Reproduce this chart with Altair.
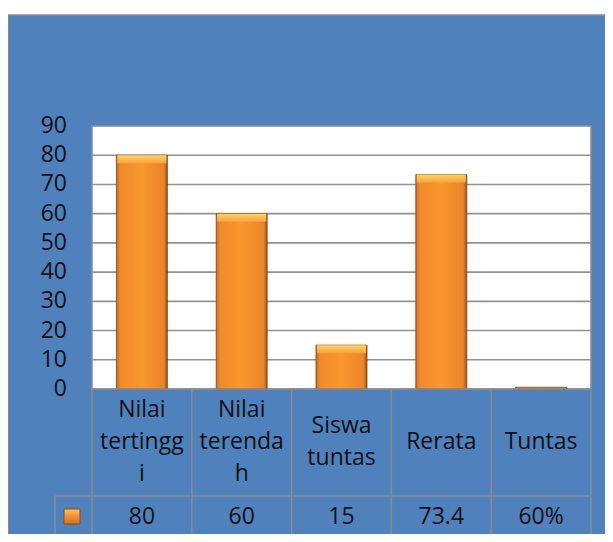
import altair as alt
import pandas as pd

# ---- data ----
categories = ["Nilai tertinggi", "Nilai terendah", "Siswa tuntas", "Rerata", "Tuntas"]
cat_labels = ["Nilai\ntertingg\ni", "Nilai\nterenda\nh", "Siswa\ntuntas", "Rerata", "Tuntas"]
values = [80, 60, 15, 73.4, 0.6]
value_labels = ["80", "60", "15", "73.4", "60%"]
y_ticks = [0, 10, 20, 30, 40, 50, 60, 70, 80, 90]

df = pd.DataFrame({"cat": categories, "label": cat_labels,
                   "value": values, "vlabel": value_labels})
df["n"] = [lbl.count("\n") + 1 for lbl in cat_labels]
tick_df = pd.DataFrame({"tick": y_ticks, "tlabel": [str(t) for t in y_ticks]})
grid_df = pd.DataFrame({"tick": y_ticks[1:-1]})
one = pd.DataFrame({"k": [0]})

W, H = 499, 263
FONT = "Open Sans"
BLUE = "#4F81BD"
LINE = "#8C8C8C"
TXT = "#111111"

xscale = alt.Scale(paddingInner=0, paddingOuter=0)
xenc = alt.X("cat:N", sort=categories, axis=None, scale=xscale)
yscale = alt.Scale(domain=[0, 90], nice=False)

# blue outer panel
panel = alt.Chart(one).mark_rect(fill=BLUE, stroke=LINE, strokeWidth=1.5).encode(
    x=alt.value(-84), x2=alt.value(W + 40), y=alt.value(-111), y2=alt.value(H + 160))

# white plot area
plot_bg = alt.Chart(one).mark_rect(fill="white", stroke=LINE, strokeWidth=1.5).encode(
    x=alt.value(0), x2=alt.value(W), y=alt.value(0), y2=alt.value(H))

grid = alt.Chart(grid_df).mark_rule(color="#939393", strokeWidth=1.6).encode(
    y=alt.Y("tick:Q", scale=yscale, axis=None),
    x=alt.value(0), x2=alt.value(W))

ylabels = alt.Chart(tick_df).mark_text(
    font=FONT, fontSize=23, color=TXT, align="right", baseline="middle").encode(
    y=alt.Y("tick:Q", scale=yscale, axis=None),
    x=alt.value(-25), text="tlabel:N")

bar_fill = alt.Gradient(
    gradient="linear", x1=0, x2=1, y1=0, y2=0,
    stops=[alt.GradientStop(offset=0, color="#C9681C"),
           alt.GradientStop(offset=0.07, color="#F08A2B"),
           alt.GradientStop(offset=0.5, color="#F8972F"),
           alt.GradientStop(offset=0.93, color="#EC8429"),
           alt.GradientStop(offset=1, color="#9A5018")])

bars = alt.Chart(df).mark_bar(size=51, fill=bar_fill, stroke="#7A461C",
                              strokeWidth=0.8).encode(
    x=xenc, y=alt.Y("value:Q", scale=yscale, axis=None))

bevel_fill = alt.Gradient(
    gradient="linear", x1=0, x2=0, y1=0, y2=1,
    stops=[alt.GradientStop(offset=0, color="#FFD366"),
           alt.GradientStop(offset=1, color="#F9A23A")])

bevel = alt.Chart(df).transform_filter("datum.value > 3").mark_tick(
    size=49, thickness=8, yOffset=4, fill=bevel_fill, opacity=1).encode(
    x=xenc, y=alt.Y("value:Q", scale=yscale, axis=None))

# table lines
def hrule(x0, yv):
    return alt.Chart(one).mark_rule(color=LINE, strokeWidth=1.5).encode(
        x=alt.value(x0), x2=alt.value(W), y=alt.value(yv))

h0 = hrule(0, H)
h1 = hrule(-37, H + 107)
h2 = hrule(-37, H + 148)
vcols = alt.Chart(df).mark_rule(color=LINE, strokeWidth=1.5).encode(
    x=alt.X("cat:N", sort=categories, axis=None, bandPosition=0, scale=xscale),
    y=alt.value(H), y2=alt.value(H + 148))
vright = alt.Chart(one).mark_rule(color=LINE, strokeWidth=1.5).encode(
    x=alt.value(W), y=alt.value(H), y2=alt.value(H + 148))
vleft = alt.Chart(one).mark_rule(color=LINE, strokeWidth=1.5).encode(
    x=alt.value(-37), y=alt.value(H + 107), y2=alt.value(H + 148))

LH = 32
cat_layers = []
for n in sorted(set(df["n"])):
    cat_layers.append(
        alt.Chart(df).transform_filter(f"datum.n == {n}").mark_text(
            font=FONT, fontSize=23, color=TXT, lineBreak="\n", lineHeight=LH,
            baseline="middle", align="center", dy=-(n - 1) * LH / 2).encode(
            x=xenc, y=alt.value(H + 53), text="label:N"))

val_text = alt.Chart(df).mark_text(
    font=FONT, fontSize=23, color=TXT, baseline="middle",
    align="center").encode(
    x=xenc, y=alt.value(H + 128), text="vlabel:N")

key_fill = alt.Gradient(
    gradient="linear", x1=0, x2=0, y1=0, y2=1,
    stops=[alt.GradientStop(offset=0, color="#FFC35A"),
           alt.GradientStop(offset=0.5, color="#F4902E"),
           alt.GradientStop(offset=1, color="#D2701E")])
key = alt.Chart(one).mark_rect(fill=key_fill, stroke="#8B4A12", strokeWidth=1).encode(
    x=alt.value(-28), x2=alt.value(-12), y=alt.value(H + 120), y2=alt.value(H + 135))

chart = alt.layer(
    panel, plot_bg, grid, ylabels, bars, bevel, h0, h1, h2, vcols, vright, vleft,
    *cat_layers, val_text, key
).properties(
    width=W, height=H,
    autosize=alt.AutoSizeParams(type="none"),
    padding={"left": 84, "top": 118, "right": 14, "bottom": 145},
).configure_view(stroke="transparent").configure(background="white")

chart.save("out.html", embed_options={"renderer": "svg", "actions": False})
